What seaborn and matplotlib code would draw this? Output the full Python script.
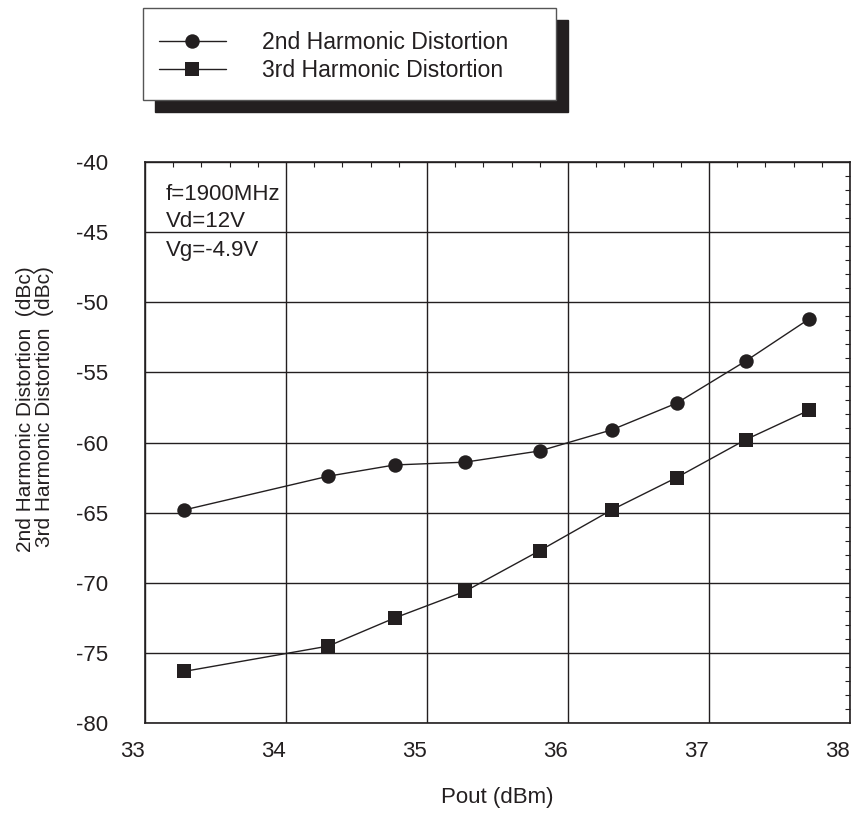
import matplotlib
matplotlib.use("Agg")
import matplotlib.pyplot as plt
from matplotlib.patches import Rectangle
from matplotlib.ticker import MultipleLocator
import seaborn as sns
import pandas as pd

# ---- data ----
pout = [33.28, 34.30, 34.77, 35.27, 35.80, 36.31, 36.77, 37.26, 37.71]
h2_dbc = [-64.8, -62.4, -61.6, -61.4, -60.6, -59.1, -57.2, -54.2, -51.2]
h3_dbc = [-76.3, -74.5, -72.5, -70.6, -67.7, -64.8, -62.5, -59.8, -57.7]
series_labels = ["2nd Harmonic Distortion", "3rd Harmonic Distortion"]
x_ticks = [33, 34, 35, 36, 37, 38]
y_ticks = [-80, -75, -70, -65, -60, -55, -50, -45, -40]
notes = ["f=1900MHz", "Vd=12V", "Vg=-4.9V"]

sns.set_theme(style="white")
plt.rcParams["font.family"] = ["Liberation Sans", "DejaVu Sans"]

INK = "#231f20"
FS = 16

fig = plt.figure(figsize=(8.54, 8.21), dpi=100)
ax = fig.add_axes([145 / 854, 1 - 723.3 / 821, 705 / 854, 561.6 / 821])

df2 = pd.DataFrame({"x": pout, "y": h2_dbc})
df3 = pd.DataFrame({"x": pout, "y": h3_dbc})
sns.lineplot(data=df2, x="x", y="y", ax=ax, color=INK, lw=1.0, marker="o",
             markersize=10.4, markeredgewidth=0, markerfacecolor=INK,
             label=series_labels[0], legend=False, zorder=5)
sns.lineplot(data=df3, x="x", y="y", ax=ax, color=INK, lw=1.0, marker="s",
             markersize=10.0, markeredgewidth=0, markerfacecolor=INK,
             label=series_labels[1], legend=False, zorder=5)

ax.set_xlim(33, 38)
ax.set_ylim(-80, -40)
ax.set_xticks(x_ticks)
ax.set_yticks(y_ticks)
ax.set_xticklabels([str(t) for t in x_ticks])
ax.set_yticklabels([str(t) for t in y_ticks])
ax.xaxis.set_minor_locator(MultipleLocator(0.2))
ax.yaxis.set_minor_locator(MultipleLocator(1))
ax.grid(True, which="major", color=INK, lw=1.0)
ax.tick_params(which="both", direction="in", top=True, right=True, colors=INK)
ax.tick_params(which="major", length=0, labelsize=FS, labelcolor=INK)
ax.tick_params(axis="x", which="major", pad=12.7)
ax.tick_params(axis="y", which="major", pad=26.6)
ax.tick_params(which="minor", length=3.5, width=0.8)
for lab in ax.get_xticklabels():
    lab.set_ha("right")
for sp in ax.spines.values():
    sp.set_color(INK)
    sp.set_linewidth(1.2)

ax.set_xlabel("Pout (dBm)", fontsize=FS, color=INK, labelpad=18)
ax.set_ylabel("")
fig.text(35 / 854, 1 - 409 / 821,
         "2nd Harmonic Distortion  (dBc)\n3rd Harmonic Distortion  (dBc)",
         rotation=90, ha="center", va="center", multialignment="right",
         fontsize=15, color=INK, linespacing=1.0)

# annotation
for txt, by in zip(notes, [200, 227, 256]):
    ax.text((166 - 145) / 705, (723.3 - by) / 561.6, txt, transform=ax.transAxes,
            ha="left", va="baseline", fontsize=FS, color=INK, zorder=6)

# legend box with shadow
lx0, ly_top, lw_, lh_ = 143, 8.3, 413, 91.7
off = 12
fig.patches.append(Rectangle(((lx0 + off) / 854, 1 - (ly_top + lh_ + off) / 821),
                             lw_ / 854, lh_ / 821, transform=fig.transFigure,
                             facecolor=INK, edgecolor=INK, zorder=1))
fig.patches.append(Rectangle((lx0 / 854, 1 - (ly_top + lh_) / 821),
                             lw_ / 854, lh_ / 821, transform=fig.transFigure,
                             facecolor="white", edgecolor="#555555", lw=1.0, zorder=2))
handles = ax.get_lines()[:2]
leg = fig.legend(handles, series_labels, loc="upper left",
                 bbox_to_anchor=(159 / 854, 1 - 31 / 821), bbox_transform=fig.transFigure,
                 frameon=False, fontsize=16.6, handlelength=2.9, handletextpad=1.55,
                 labelspacing=0.22, borderpad=0, borderaxespad=0)
for t in leg.get_texts():
    t.set_color(INK)
leg.set_zorder(10)

fig.savefig("out.png", dpi=100)
